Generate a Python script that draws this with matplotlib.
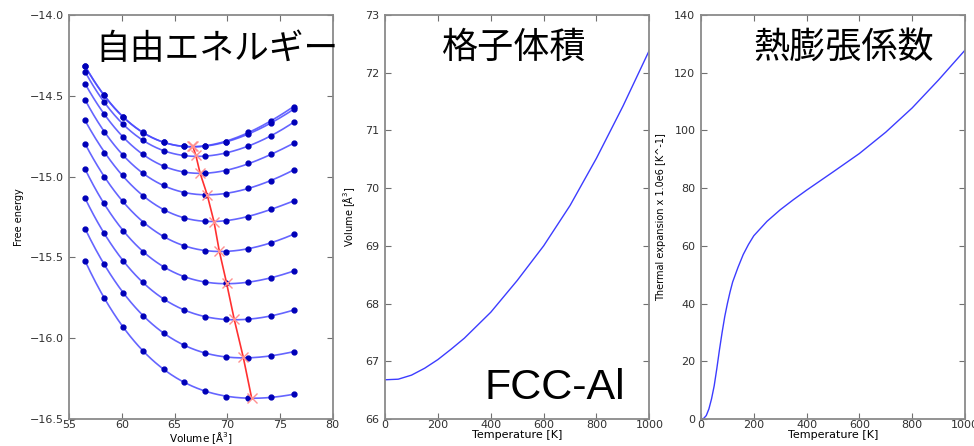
import matplotlib
matplotlib.use('Agg')
import matplotlib.pyplot as plt
import numpy as np

plt.rcParams['font.family'] = ['DejaVu Sans', 'Noto Sans CJK JP']

# free energy vs volume, one row per temperature (0..1000 K step 100)
volumes = [56.5, 58.3, 60.1, 62.0, 64.0, 65.9, 67.9, 69.9, 72.0, 74.1, 76.3]
free_energy = [
    [-14.316, -14.495, -14.633, -14.726, -14.786, -14.811, -14.811, -14.783, -14.726, -14.654, -14.567],
    [-14.317, -14.497, -14.634, -14.727, -14.788, -14.812, -14.812, -14.786, -14.738, -14.666, -14.584],
    [-14.351, -14.540, -14.676, -14.775, -14.840, -14.868, -14.874, -14.856, -14.809, -14.747, -14.664],
    [-14.425, -14.613, -14.757, -14.862, -14.933, -14.973, -14.980, -14.963, -14.918, -14.863, -14.794],
    [-14.524, -14.722, -14.868, -14.980, -15.052, -15.100, -15.114, -15.105, -15.071, -15.024, -14.959],
    [-14.652, -14.852, -14.990, -15.120, -15.207, -15.258, -15.272, -15.273, -15.248, -15.202, -15.151],
    [-14.796, -15.002, -15.151, -15.285, -15.368, -15.428, -15.459, -15.464, -15.445, -15.409, -15.357],
    [-14.955, -15.165, -15.335, -15.465, -15.558, -15.619, -15.654, -15.660, -15.655, -15.626, -15.584],
    [-15.134, -15.351, -15.522, -15.654, -15.757, -15.826, -15.869, -15.883, -15.883, -15.861, -15.826],
    [-15.322, -15.543, -15.718, -15.861, -15.966, -16.044, -16.093, -16.118, -16.121, -16.107, -16.084],
    [-15.522, -15.749, -15.933, -16.079, -16.191, -16.273, -16.329, -16.361, -16.369, -16.366, -16.347],
]
# equilibrium points (minimum of each curve)
v_min = [66.67, 66.70, 67.00, 67.40, 68.09, 68.73, 69.23, 69.93, 70.65, 71.51, 72.31]
f_min = [-14.809, -14.811, -14.866, -14.976, -15.114, -15.279, -15.460, -15.660, -15.883, -16.118, -16.372]

# lattice volume vs temperature
temp_v = [0, 50, 100, 150, 200, 250, 300, 400, 500, 600, 700, 800, 900, 1000]
volume_t = [66.68, 66.69, 66.76, 66.88, 67.03, 67.21, 67.40, 67.85, 68.40, 69.00, 69.70, 70.52, 71.42, 72.39]

# thermal expansion vs temperature
temp_a = [0, 10, 20, 30, 40, 50, 60, 70, 80, 90, 100, 110, 120, 140, 160, 180, 200,
          250, 300, 350, 400, 500, 600, 700, 800, 900, 1000]
alpha = [0, 0.2, 1.2, 3.5, 7, 11.5, 17.5, 24, 30, 35.5, 40, 44, 47.5, 52.5, 57, 60.5, 63.5,
         68.5, 72.5, 76, 79.3, 85.6, 92, 99.4, 107.8, 117.5, 127.8]

titles = ['自由エネルギー', '格子体積', '熱膨張係数']

fig = plt.figure(figsize=(9.74, 4.46), dpi=100)
ax1 = fig.add_axes([0.0712, 0.0605, 0.2704, 0.9058])
ax2 = fig.add_axes([0.3953, 0.0605, 0.2714, 0.9058])
ax3 = fig.add_axes([0.7197, 0.0605, 0.2710, 0.9058])

vv = np.linspace(volumes[0], volumes[-1], 200)
for row in free_energy:
    coef = np.polyfit(volumes, row, 4)
    ax1.plot(vv, np.polyval(coef, vv), color='#4a4aff', lw=1.2, alpha=0.85)
    ax1.plot(volumes, row, 'o', color='#0000b8', ms=3.5, mec='#0000b8')
ax1.plot(v_min, f_min, color='#ff3030', lw=1.2, zorder=5)
ax1.plot(v_min, f_min, 'x', color='#ff9090', ms=7, mew=1.0, zorder=6)
ax1.set_xlim(55, 80)
ax1.set_ylim(-16.5, -14.0)
ax1.set_xticks([55, 60, 65, 70, 75, 80])
ax1.set_yticks([-16.5, -16.0, -15.5, -15.0, -14.5, -14.0])
ax1.set_xlabel('Volume [Å$^3$]', fontsize=7.5, labelpad=0)
ax1.set_ylabel('Free energy', fontsize=7, labelpad=4)

ax2.plot(temp_v, volume_t, color='#3c3cff', lw=1.0)
ax2.set_xlim(0, 1000)
ax2.set_ylim(66, 73)
ax2.set_ylabel('Volume [Å$^3$]', fontsize=7, labelpad=6)
ax2.set_xlabel('Temperature [K]', fontsize=8, labelpad=0)

ax3.plot(temp_a, alpha, color='#3c3cff', lw=1.0)
ax3.set_xlim(0, 1000)
ax3.set_ylim(0, 140)
ax3.set_ylabel('Thermal expansion x 1.0e6 [K^-1]', fontsize=7, labelpad=6)
ax3.set_xlabel('Temperature [K]', fontsize=8, labelpad=0)

for ax in (ax1, ax2, ax3):
    ax.tick_params(direction='in', top=True, right=True, length=4, width=0.8,
                   color='#707070', labelsize=8, labelcolor='#303030', pad=4)
    ax.tick_params(axis='x', pad=0.8)
    for s in ax.spines.values():
        s.set_color('#8a8a8a')
        s.set_linewidth(1.3)

fig.text(95 / 974, 1 - 50 / 446, titles[0], fontsize=25, va='center', ha='left',
         family=['Noto Sans CJK JP'])
fig.text(442 / 974, 1 - 48 / 446, titles[1], fontsize=26, va='center', ha='left',
         family=['Noto Sans CJK JP'])
fig.text(753 / 974, 1 - 48 / 446, titles[2], fontsize=26, va='center', ha='left',
         family=['Noto Sans CJK JP'])
fig.text(485 / 974, 1 - 388 / 446, 'FCC-Al', fontsize=31, va='center', ha='left',
         family=['Liberation Sans'])

plt.savefig('out.png', dpi=100)
